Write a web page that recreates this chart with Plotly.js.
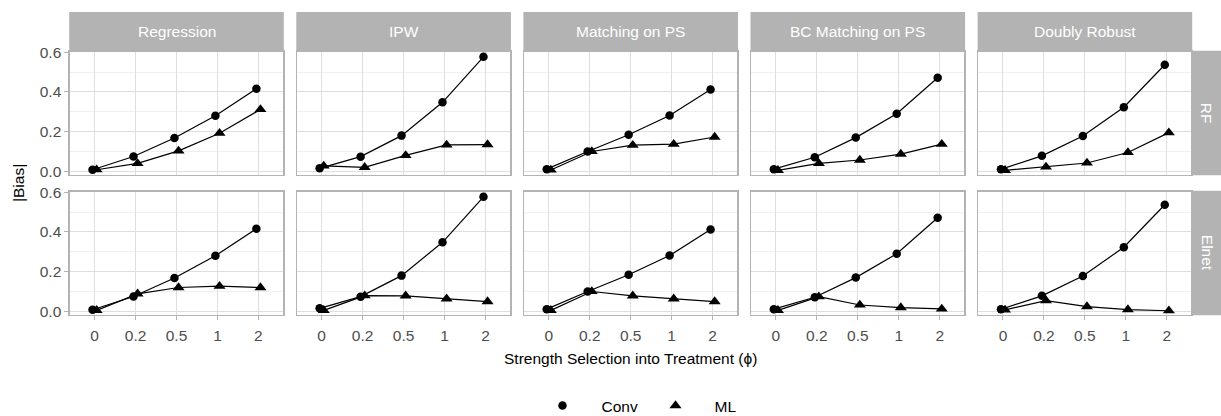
<!DOCTYPE html>
<html>
<head>
<meta charset="utf-8">
<script src="https://cdn.plot.ly/plotly-3.0.1.min.js"></script>
<style>html,body{margin:0;padding:0;background:#fff;}#chart{width:1221px;height:416px;}</style>
</head>
<body>
<div id="chart"></div>
<script>
// ---- data ----
const categories = ['0', '0.2', '0.5', '1', '2'];
const methods = ['Regression', 'IPW', 'Matching on PS', 'BC Matching on PS', 'Doubly Robust'];
const learners = ['RF', 'Elnet'];
const seriesNames = ['Conv', 'ML'];

// Conventional estimators (same in both learner rows)
const convRegression = [0.008, 0.075, 0.168, 0.280, 0.416];
const convIPW        = [0.015, 0.074, 0.180, 0.348, 0.577];
const convMatching   = [0.011, 0.100, 0.184, 0.281, 0.412];
const convBCMatching = [0.011, 0.071, 0.170, 0.290, 0.472];
const convDR         = [0.010, 0.078, 0.178, 0.323, 0.537];

// ML estimators, RF
const mlRFRegression = [0.008, 0.040, 0.103, 0.192, 0.312];
const mlRFIPW        = [0.027, 0.020, 0.080, 0.133, 0.135];
const mlRFMatching   = [0.007, 0.100, 0.132, 0.137, 0.173];
const mlRFBCMatching = [0.005, 0.040, 0.057, 0.087, 0.137];
const mlRFDR         = [0.005, 0.022, 0.042, 0.095, 0.195];

// ML estimators, Elnet
const mlElnetRegression = [0.005, 0.088, 0.120, 0.127, 0.120];
const mlElnetIPW        = [0.005, 0.079, 0.078, 0.063, 0.049];
const mlElnetMatching   = [0.005, 0.100, 0.078, 0.063, 0.049];
const mlElnetBCMatching = [0.005, 0.074, 0.032, 0.019, 0.012];
const mlElnetDR         = [0.007, 0.054, 0.024, 0.009, 0.003];

const convByMethod = [convRegression, convIPW, convMatching, convBCMatching, convDR];
const mlByLearner = {
  RF: [mlRFRegression, mlRFIPW, mlRFMatching, mlRFBCMatching, mlRFDR],
  Elnet: [mlElnetRegression, mlElnetIPW, mlElnetMatching, mlElnetBCMatching, mlElnetDR]
};

// ---- layout geometry (pixels) ----
const W = 1221, H = 416;
const colLeft = 70, colWidth = 213, colStep = 227.1;
const rowTops = [51.5, 191.5], rowHeight = 123;
const stripTop = 12;
const rightStripRight = 1221;
const dodge = 0.05;

const FONT = 'Liberation Sans, Arial, Helvetica, sans-serif';
const FS = 15.5;
const GRID = '#DEDEDE', BORDER = '#B3B3B3', STRIP = '#B3B3B3', TICKTXT = '#4D4D4D';

const px = x => x / W;
const py = y => 1 - y / H;

const traces = [];
const layout = {
  width: W, height: H,
  margin: {l: 0, r: 0, t: 0, b: 0, autoexpand: false},
  paper_bgcolor: '#fff', plot_bgcolor: '#fff',
  font: {family: FONT, size: FS, color: '#000'},
  showlegend: true,
  legend: {orientation: 'h', x: px(636.5), xanchor: 'center', y: py(406), yanchor: 'middle',
           font: {family: FONT, size: FS, color: '#000'}, itemwidth: 68,
           entrywidth: 30, entrywidthmode: 'pixels', bgcolor: 'rgba(0,0,0,0)'},
  shapes: [], annotations: []
};

const xIdx = categories.map((c, i) => i);

learners.forEach((learner, r) => {
  methods.forEach((method, c) => {
    const k = r * 5 + c;
    const xa = k === 0 ? 'x' : 'x' + (k + 1);
    const ya = k === 0 ? 'y' : 'y' + (k + 1);
    const L = colLeft + c * colStep, R = L + colWidth;
    const T = rowTops[r], B = T + rowHeight;
    const series = [convByMethod[c], mlByLearner[learner][c]];
    const offs = [-dodge, dodge];
    const symbols = ['circle', 'triangle-up'];
    const sizes = [8.5, 10.5];
    // lines first
    series.forEach((vals, s) => {
      traces.push({
        type: 'scatter', mode: 'lines', xaxis: xa, yaxis: ya,
        x: xIdx.map(i => i + offs[s]), y: vals,
        line: {color: '#000', width: 1.2}, showlegend: false, hoverinfo: 'skip',
        legendgroup: seriesNames[s]
      });
    });
    series.forEach((vals, s) => {
      traces.push({
        type: 'scatter', mode: 'markers', xaxis: xa, yaxis: ya,
        x: xIdx.map(i => i + offs[s]), y: vals, name: seriesNames[s],
        marker: {symbol: symbols[s], size: sizes[s], color: '#000'},
        showlegend: k === 0, legendgroup: seriesNames[s]
      });
    });

    const xKey = k === 0 ? 'xaxis' : 'xaxis' + (k + 1);
    const yKey = k === 0 ? 'yaxis' : 'yaxis' + (k + 1);
    layout[xKey] = {
      domain: [px(L), px(R)], anchor: ya, range: [-0.6, 4.6],
      tickmode: 'array', tickvals: xIdx, ticktext: categories,
      showticklabels: r === 1, ticks: r === 1 ? 'outside' : '', ticklen: 4, tickcolor: BORDER, tickwidth: 1,
      ticklabelstandoff: 2, automargin: false,
      tickfont: {family: FONT, size: FS, color: TICKTXT},
      showgrid: true, gridcolor: GRID, gridwidth: 1, zeroline: false,
      showline: true, mirror: true, linecolor: BORDER, linewidth: 1.6, fixedrange: true
    };
    layout[yKey] = {
      domain: [py(B), py(T)], anchor: xa, range: [-0.016, 0.604],
      tickmode: 'linear', tick0: 0, dtick: 0.2, tickformat: '.1f', automargin: false,
      minor: {tickmode: 'linear', tick0: 0, dtick: 0.1, showgrid: true, gridcolor: '#E6E6E6', gridwidth: 0.6, ticks: ''},
      showticklabels: c === 0, ticks: c === 0 ? 'outside' : '', ticklen: 4, tickcolor: BORDER, tickwidth: 1,
      tickfont: {family: FONT, size: FS, color: TICKTXT},
      showgrid: true, gridcolor: GRID, gridwidth: 1, zeroline: false,
      showline: true, mirror: true, linecolor: BORDER, linewidth: 1.6, fixedrange: true
    };

    // top strips (first row only)
    if (r === 0) {
      layout.shapes.push({type: 'rect', xref: 'paper', yref: 'paper',
        x0: px(L - 0.8), x1: px(R + 0.8), y0: py(T), y1: py(stripTop), fillcolor: STRIP, line: {width: 0}, layer: 'below'});
      layout.annotations.push({xref: 'paper', yref: 'paper', x: px((L + R) / 2), y: py((stripTop + T) / 2),
        text: method, showarrow: false, xanchor: 'center', yanchor: 'middle',
        font: {family: FONT, size: FS, color: '#FFFFFF'}});
    }
    // right strips (last column only)
    if (c === 4) {
      layout.shapes.push({type: 'rect', xref: 'paper', yref: 'paper',
        x0: px(R + 0.8), x1: px(rightStripRight), y0: py(B + 0.8), y1: py(T - 0.8), fillcolor: STRIP, line: {width: 0}, layer: 'below'});
      layout.annotations.push({xref: 'paper', yref: 'paper', x: px((R + rightStripRight) / 2 + 1), y: py((T + B) / 2),
        text: learner, showarrow: false, textangle: 90, xanchor: 'center', yanchor: 'middle',
        font: {family: FONT, size: FS, color: '#FFFFFF'}});
    }
  });
});

// axis titles
layout.annotations.push({xref: 'paper', yref: 'paper', x: px(630), y: py(358),
  text: 'Strength Selection into Treatment (\u03d5)', showarrow: false, xanchor: 'center', yanchor: 'middle',
  font: {family: FONT, size: FS, color: '#000'}});
layout.annotations.push({xref: 'paper', yref: 'paper', x: px(18), y: py(183),
  text: '|Bias|', showarrow: false, textangle: -90, xanchor: 'center', yanchor: 'middle',
  font: {family: FONT, size: FS, color: '#000'}});

Plotly.newPlot('chart', traces, layout, {displayModeBar: false, staticPlot: true});
</script>
</body>
</html>
